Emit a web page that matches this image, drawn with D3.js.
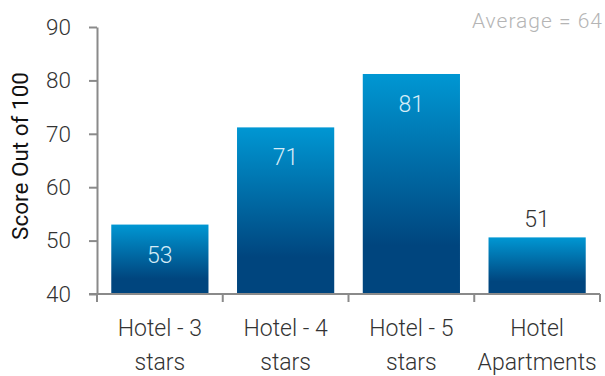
<!DOCTYPE html>
<html>
<head>
<meta charset="utf-8">
<script src="https://cdn.jsdelivr.net/npm/d3@7"></script>
<style>
  body { margin: 0; background: #fff; }
  text { font-family: Roboto, "Open Sans", sans-serif; font-weight: 300; }
</style>
</head>
<body>
<div id="chart"></div>
<script>
// data
var categories = [["Hotel - 3", "stars"], ["Hotel - 4", "stars"], ["Hotel - 5", "stars"], ["Hotel", "Apartments"]];
var scores = [53, 71.2, 81.2, 50.6];
var labels = ["53", "71", "81", "51"];
var yTicks = [40, 50, 60, 70, 80, 90];
var averageText = "Average = 64";

const margin = { top: 27, right: 5, bottom: 82, left: 97 },
  width = 605 - margin.left - margin.right,
  height = 376 - margin.top - margin.bottom;

const svg = d3.select("#chart")
  .append("svg")
  .attr("width", 605)
  .attr("height", 376);

// gradient for bars
const grad = svg.append("defs").append("linearGradient")
  .attr("id", "barGrad")
  .attr("x1", 0).attr("y1", 0).attr("x2", 0).attr("y2", 1);
grad.append("stop").attr("offset", "0%").attr("stop-color", "#0097d3");
grad.append("stop").attr("offset", "78%").attr("stop-color", "#00457e");
grad.append("stop").attr("offset", "100%").attr("stop-color", "#00457e");

const g = svg.append("g")
  .attr("transform", `translate(${margin.left},${margin.top})`);

const x = d3.scaleBand()
  .domain(d3.range(categories.length))
  .range([0, width])
  .paddingInner(0.227)
  .paddingOuter(0.1135);

const y = d3.scaleLinear()
  .domain([40, 90])
  .range([height, 0]);

// bars
g.selectAll(".bar")
  .data(scores)
  .enter().append("rect")
  .attr("class", "bar")
  .attr("x", (d, i) => x(i))
  .attr("y", d => y(d))
  .attr("width", x.bandwidth())
  .attr("height", d => height - y(d))
  .attr("fill", "url(#barGrad)");

// value labels
g.selectAll(".val")
  .data(scores)
  .enter().append("text")
  .attr("class", "val")
  .attr("x", (d, i) => x(i) + x.bandwidth() / 2)
  .attr("y", (d, i) => i == 3 ? y(d) - 10 : y(d) + 38)
  .attr("text-anchor", "middle")
  .style("font-size", "23px")
  .style("fill", (d, i) => i == 3 ? "#333" : "#d6ecf7")
  .text((d, i) => labels[i]);

// Y axis
const yAxis = g.append("g")
  .call(d3.axisLeft(y).tickValues(yTicks).tickSize(8).tickSizeOuter(0));
yAxis.select(".domain").attr("stroke", "#8a8a8a").attr("stroke-width", 2);
yAxis.selectAll(".tick line").attr("stroke", "#8a8a8a").attr("stroke-width", 2);
yAxis.selectAll(".tick text")
  .attr("x", -26)
  .style("font-size", "22.5px")
  .style("fill", "#333")
  .style("font-family", "Roboto, sans-serif")
  .style("font-weight", 300);

// X axis
const xAxis = g.append("g")
  .attr("transform", `translate(0,${height})`);
xAxis.append("line")
  .attr("x1", -8).attr("x2", width)
  .attr("y1", 0).attr("y2", 0)
  .attr("stroke", "#8a8a8a").attr("stroke-width", 2);
const bounds = d3.range(categories.length + 1).map(i => i * x.step());
xAxis.selectAll(".xtick")
  .data(bounds)
  .enter().append("line")
  .attr("x1", d => d).attr("x2", d => d)
  .attr("y1", 0).attr("y2", 8)
  .attr("stroke", "#8a8a8a").attr("stroke-width", 2);

const catText = xAxis.selectAll(".cat")
  .data(categories)
  .enter().append("text")
  .attr("class", "cat")
  .attr("text-anchor", "middle")
  .attr("transform", (d, i) => `translate(${x(i) + x.bandwidth() / 2},0)`)
  .style("font-size", "23px")
  .style("fill", "#333");
catText.selectAll("tspan")
  .data(d => d)
  .enter().append("tspan")
  .attr("x", 0)
  .attr("y", (d, j) => 42 + j * 34)
  .text(d => d);

// Y axis title
svg.append("text")
  .attr("transform", "rotate(-90)")
  .attr("x", -156)
  .attr("y", 28)
  .attr("text-anchor", "middle")
  .style("font-size", "22.5px")
  .style("font-weight", 400)
  .style("fill", "#111")
  .text("Score Out of 100");

// average note
svg.append("text")
  .attr("x", 603)
  .attr("y", 28)
  .attr("text-anchor", "end")
  .style("font-size", "21px")
  .style("letter-spacing", "1px")
  .style("fill", "#b5b5b5")
  .text(averageText);
</script>
</body>
</html>
